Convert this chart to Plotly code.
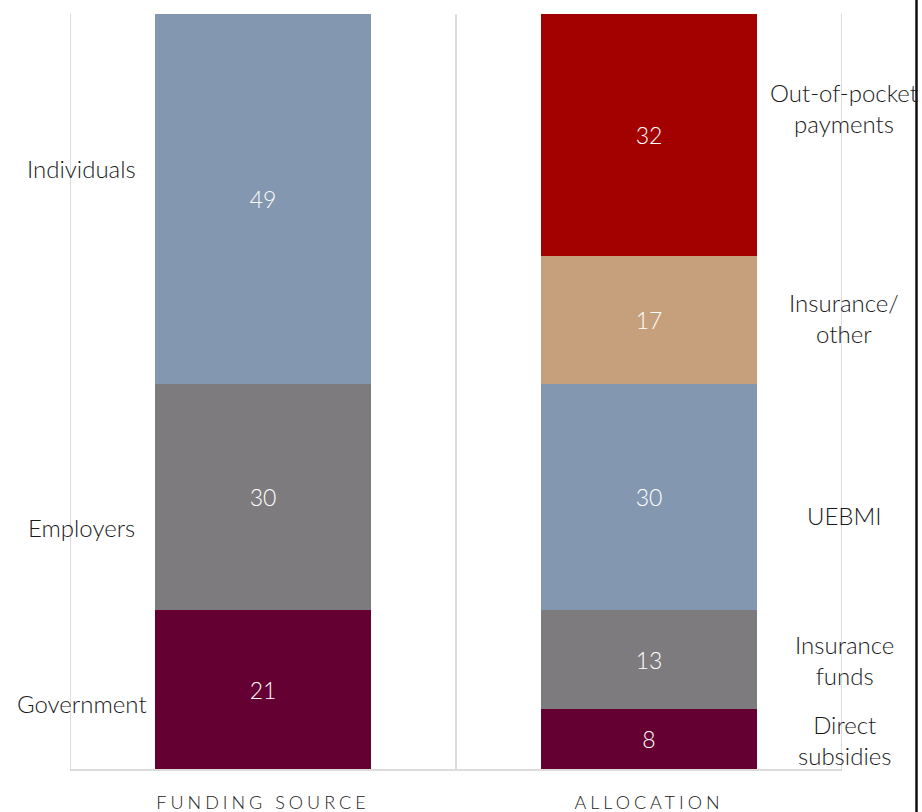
import plotly.graph_objects as go

# Funding vs allocation (shares, %)
categories = ["FUNDING SOURCE", "ALLOCATION"]

funding_labels = ["Government", "Employers", "Individuals"]
funding_values = [21, 30, 49]
funding_colors = ["#650032", "#7e7b7e", "#8497b0"]

alloc_labels = ["Direct\nsubsidies", "Insurance\nfunds", "UEBMI", "Insurance/\nother", "Out-of-pocket\npayments"]
alloc_values = [8, 13, 30, 17, 32]
alloc_colors = ["#650032", "#7e7b7e", "#8497b0", "#c6a07c", "#a30000"]

# side-label vertical anchors (share units)
funding_label_y = [8.7, 32.0, 79.6]
alloc_label_y = [3.8, 14.4, 33.6, 59.7, 87.5]

FONT = "Lato"
TEXT = "#1a1a1a"
GRID = "#dcdcdc"
LABEL_SIZE = 24

fig = go.Figure()
xpos = [0.5, 1.5]

for lab, val, col in zip(funding_labels, funding_values, funding_colors):
    fig.add_trace(go.Bar(
        x=[xpos[0]], y=[val], width=0.56, name=lab,
        marker=dict(color=col, line=dict(width=0)),
        text=[str(val)], textposition="inside", insidetextanchor="middle",
        textfont=dict(color="white", size=23, family=FONT, weight=300),
        hoverinfo="skip", showlegend=False,
    ))

for lab, val, col in zip(alloc_labels, alloc_values, alloc_colors):
    fig.add_trace(go.Bar(
        x=[xpos[1]], y=[val], width=0.56, name=lab.replace("\n", " "),
        marker=dict(color=col, line=dict(width=0)),
        text=[str(val)], textposition="inside", insidetextanchor="middle",
        textfont=dict(color="white", size=23, family=FONT, weight=300),
        hoverinfo="skip", showlegend=False,
    ))

annotations = []
for lab, yv in zip(funding_labels, funding_label_y):
    annotations.append(dict(x=0.0155, y=yv, xref="paper", yref="y", text=lab, showarrow=False,
                            xanchor="center", yanchor="middle",
                            font=dict(size=LABEL_SIZE, family=FONT, color=TEXT, weight=300)))
for lab, yv in zip(alloc_labels, alloc_label_y):
    annotations.append(dict(x=1.0026, y=yv, xref="paper", yref="y", text=lab.replace("\n", "<br>"),
                            showarrow=False, xanchor="center", yanchor="middle", align="center",
                            font=dict(size=LABEL_SIZE, family=FONT, color=TEXT, weight=300)))

shapes = []
for gx in [0, 1, 2]:
    shapes.append(dict(type="line", xref="x", yref="y", x0=gx, x1=gx, y0=0, y1=100,
                       line=dict(color=GRID, width=2), layer="below"))
# right-hand frame rule
shapes.append(dict(type="line", xref="paper", yref="paper", x0=1.0965, x1=1.0965, y0=-0.06, y1=1.03,
                   line=dict(color="#111111", width=2.5)))

fig.update_layout(
    barmode="stack",
    width=922, height=812,
    margin=dict(l=70, r=80, t=14, b=43, autoexpand=False),
    paper_bgcolor="white", plot_bgcolor="white",
    bargap=0,
    annotations=annotations,
    shapes=shapes,
    xaxis=dict(range=[0, 2], tickvals=xpos, ticktext=categories, showgrid=False,
               showline=True, linecolor=GRID, linewidth=2, ticks="", zeroline=False,
               ticklabelstandoff=16, automargin=False,
               tickfont=dict(size=18, family=FONT, color="#222222", weight=300),
               fixedrange=True),
    yaxis=dict(range=[0, 100], showgrid=False, showticklabels=False, zeroline=False,
               showline=False, fixedrange=True, automargin=False),
)

post = """
var gd = document.getElementById('{plot_id}');
gd.querySelectorAll('.xtick text').forEach(function(t){ t.style.letterSpacing = '4px'; });
"""

fig.write_html("out.html", post_script=post)
